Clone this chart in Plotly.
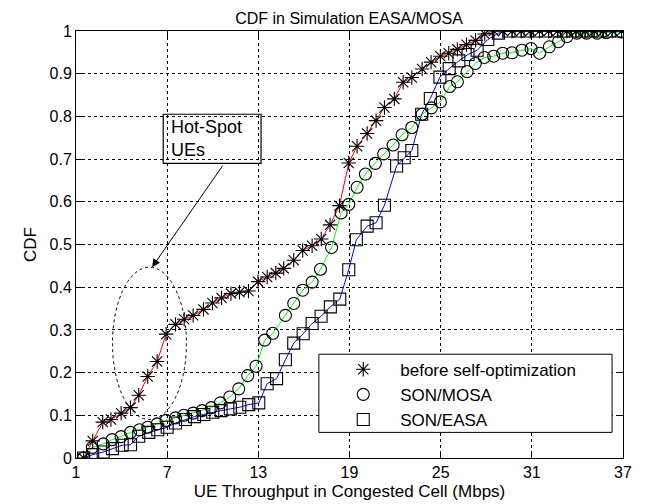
import plotly.graph_objects as go

# before self-optimization (red line, star markers)
before_x = [1.5, 2.1, 2.76, 3.3, 3.97, 4.59, 5.13, 5.72, 6.34, 6.93, 7.55, 8.12, 8.71, 9.39, 9.98,
            10.58, 11.2, 11.76, 12.35, 12.98, 13.58, 14.15, 14.67, 15.33, 15.92, 16.54, 17.14, 17.72,
            18.34, 18.95, 19.5, 20.16, 20.75, 21.3, 21.95, 22.53, 23.1, 23.78, 24.37, 24.98, 25.53,
            26.1, 26.7, 27.3, 27.9, 28.5, 29.1, 29.7, 30.3, 30.9, 31.5, 32.1, 32.7, 33.3, 33.9,
            34.5, 35.1, 35.7, 36.3, 36.9]
before_y = [0.0, 0.04, 0.084, 0.09, 0.105, 0.118, 0.147, 0.191, 0.226, 0.29, 0.313, 0.325, 0.334,
            0.348, 0.363, 0.375, 0.385, 0.388, 0.391, 0.413, 0.424, 0.433, 0.444, 0.463, 0.486,
            0.497, 0.513, 0.546, 0.591, 0.691, 0.73, 0.76, 0.79, 0.821, 0.841, 0.88, 0.891, 0.911,
            0.927, 0.941, 0.948, 0.957, 0.968, 0.978, 0.993, 1.0, 1.0, 1.0, 1.0, 1.0, 1.0, 1.0,
            1.0, 1.0, 1.0, 1.0, 1.0, 1.0, 1.0, 1.0]

# SON/MOSA (green line, circle markers)
mosa_x = [1.5, 2.07, 2.79, 3.38, 3.97, 4.59, 5.18, 5.72, 6.34, 6.93, 7.55, 8.09, 8.71, 9.3, 9.91,
          10.5, 11.12, 11.71, 12.3, 12.85, 13.42, 13.95, 14.78, 15.33, 15.92, 16.54, 17.09, 17.82,
          18.45, 18.95, 19.5, 20.05, 20.7, 21.25, 21.87, 22.46, 23.1, 23.78, 24.39, 24.98, 25.59,
          26.1, 26.74, 27.28, 27.87, 28.49, 29.08, 29.7, 30.35, 30.95, 31.51, 32.15, 32.76, 33.31,
          33.97, 34.6, 35.3, 35.9, 36.9]
mosa_y = [0.0, 0.025, 0.033, 0.043, 0.05, 0.06, 0.066, 0.072, 0.08, 0.088, 0.094, 0.1, 0.105,
          0.111, 0.118, 0.129, 0.143, 0.162, 0.193, 0.215, 0.276, 0.292, 0.334, 0.362, 0.393,
          0.412, 0.442, 0.493, 0.574, 0.594, 0.634, 0.665, 0.69, 0.712, 0.733, 0.757, 0.774,
          0.805, 0.82, 0.834, 0.87, 0.881, 0.905, 0.924, 0.938, 0.941, 0.948, 0.949, 0.955,
          0.959, 0.948, 0.963, 0.975, 0.987, 0.995, 0.995, 0.995, 0.996, 0.998]

# SON/EASA (blue line, square markers)
easa_x = [1.5, 2.1, 2.79, 3.4, 4.04, 4.59, 5.13, 5.79, 6.38, 7.0, 7.55, 8.2, 8.8, 9.41, 10.0,
          10.55, 11.16, 11.78, 12.37, 13.03, 13.58, 14.2, 14.78, 15.33, 15.95, 16.54, 17.13,
          17.74, 18.36, 18.95, 19.45, 20.16, 20.75, 21.3, 22.1, 22.6, 23.1, 23.75, 24.32, 24.95,
          25.56, 26.2, 26.8, 27.4, 28.1, 28.8, 29.5, 30.1, 30.7, 31.3, 31.9, 32.5, 33.1, 33.7,
          34.3, 34.9, 35.5, 36.1, 36.7]
easa_y = [0.0, 0.008, 0.014, 0.022, 0.03, 0.031, 0.051, 0.06, 0.066, 0.072, 0.082, 0.09, 0.097,
          0.102, 0.107, 0.111, 0.115, 0.119, 0.125, 0.129, 0.174, 0.186, 0.23, 0.269, 0.291,
          0.315, 0.332, 0.354, 0.372, 0.441, 0.511, 0.543, 0.551, 0.592, 0.684, 0.703, 0.72,
          0.805, 0.842, 0.892, 0.912, 0.93, 0.945, 0.955, 0.98, 0.995, 1.0, 1.0, 1.0, 1.0, 1.0,
          1.0, 1.0, 1.0, 1.0, 1.0, 1.0, 1.0, 1.0]

x_ticks = [1, 7, 13, 19, 25, 31, 37]
y_ticks = [0, 0.1, 0.2, 0.3, 0.4, 0.5, 0.6, 0.7, 0.8, 0.9, 1]
y_tick_text = ["0", "0.1", "0.2", "0.3", "0.4", "0.5", "0.6", "0.7", "0.8", "0.9", "1"]

series = [
    ("before self-optimization", before_x, before_y, "red", "asterisk-open", 12),
    ("SON/MOSA", mosa_x, mosa_y, "#00ff00", "circle-open", 12),
    ("SON/EASA", easa_x, easa_y, "blue", "square-open", 12),
]

FONT = "Liberation Sans, Arial, sans-serif"
fig = go.Figure()

for name, xs, ys, col, sym, sz in series:
    fig.add_trace(go.Scatter(x=xs, y=ys, mode="lines", line=dict(color=col, width=1),
                             showlegend=False, hoverinfo="skip"))
for i, (name, xs, ys, col, sym, sz) in enumerate(series):
    fig.add_trace(go.Scatter(x=xs, y=ys, mode="markers", name=name, legendgroup=f"g{i}",
                             marker=dict(symbol=sym, size=sz, color="black",
                                         line=dict(color="black", width=1.1))))

# Hot-spot annotation box, arrow, and dotted ellipse
fig.add_shape(type="rect", x0=6.74, x1=13.18, y0=0.69, y1=0.805,
              line=dict(color="black", width=1.2))
fig.add_annotation(x=7.1, y=0.7475, text="Hot-Spot<br>UEs", showarrow=False, xanchor="left",
                   align="left", font=dict(family=FONT, size=18, color="black"))
fig.add_annotation(x=6.01, y=0.447, ax=10.72, ay=0.688, xref="x", yref="y", axref="x", ayref="y",
                   text="", showarrow=True, arrowhead=2, arrowsize=1.6, arrowwidth=1,
                   arrowcolor="black")
fig.add_shape(type="circle", x0=3.4, x1=8.27, y0=0.09, y1=0.447,
              line=dict(color="black", width=1, dash="dot"))

# legend frame (white box hiding lines beneath; legend itself drawn on top)
fig.add_shape(type="rect", xref="paper", yref="paper", x0=0.444, x1=0.98, y0=0.06, y1=0.243,
              line=dict(color="black", width=1), fillcolor="white", layer="above")

axis_common = dict(showline=True, linecolor="black", linewidth=1, mirror="ticks",
                   ticks="inside", ticklen=6, tickcolor="black", automargin=False,
                   showgrid=True, gridcolor="black", griddash="dot", gridwidth=1,
                   zeroline=False, tickfont=dict(family=FONT, size=16, color="black"))

fig.update_xaxes(range=[1, 37], tickvals=x_ticks, ticktext=[str(v) for v in x_ticks],
                 title=dict(text="UE Throughput in Congested Cell (Mbps)",
                            font=dict(family=FONT, size=17, color="black"), standoff=4),
                 **axis_common)
fig.update_yaxes(range=[0, 1], tickvals=y_ticks, ticktext=y_tick_text,
                 title=dict(text="CDF", font=dict(family=FONT, size=17, color="black"), standoff=8),
                 **axis_common)

# the page has an 8px body margin, so the figure is sized/placed to compensate
fig.update_layout(
    width=640, height=496,
    margin=dict(l=68, r=25, t=23, b=46, autoexpand=False),
    paper_bgcolor="white", plot_bgcolor="white",
    title=dict(text="CDF in Simulation EASA/MOSA", x=(349 - 8) / 640, xanchor="center",
               y=1 - 10 / 496, yanchor="middle",
               font=dict(family=FONT, size=16, color="black")),
    legend=dict(x=0.4575, y=0.249, xanchor="left", yanchor="top",
                borderwidth=0, bgcolor="rgba(0,0,0,0)",
                font=dict(family=FONT, size=17, color="black"),
                tracegroupgap=0, itemwidth=64),
    showlegend=True,
)

fig.write_html("out.html")
